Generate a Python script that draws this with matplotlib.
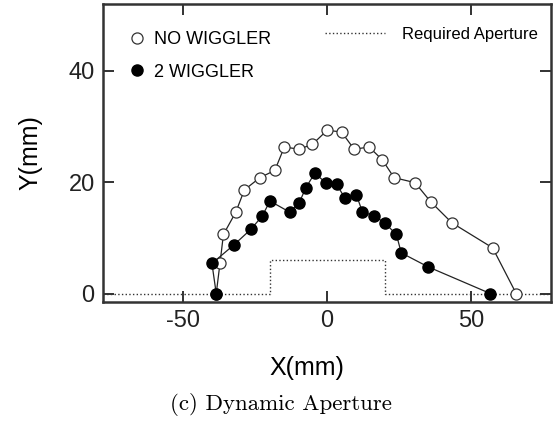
import matplotlib
matplotlib.use("Agg")
import matplotlib.pyplot as plt

# dynamic aperture boundary, no wiggler (x, y in mm)
x_nowig = [65.8, 57.6, 43.4, 36.0, 30.6, 23.3, 19.2, 14.6, 9.4, 5.0, 0.0,
           -5.1, -9.7, -14.9, -18.2, -23.4, -28.8, -31.8, -36.1, -37.3, -38.6]
y_nowig = [0.0, 8.2, 12.7, 16.5, 19.9, 20.8, 24.0, 26.3, 25.9, 29.0, 29.3,
           26.8, 25.9, 26.3, 22.1, 20.8, 18.6, 14.6, 10.6, 5.4, 0.0]

# dynamic aperture boundary, 2 wigglers
x_wig = [56.8, 35.1, 25.8, 24.1, 20.0, 16.2, 12.3, 10.2, 6.1, 3.3, -0.5,
         -4.3, -7.4, -9.8, -13.0, -19.9, -22.6, -26.6, -32.3, -40.1, -38.6]
y_wig = [0.0, 4.8, 7.3, 10.6, 12.7, 14.0, 14.6, 17.7, 17.2, 19.6, 19.9,
         21.6, 19.0, 16.2, 14.6, 16.6, 13.9, 11.5, 8.8, 5.4, 0.0]

# required aperture outline
x_req = [-78, -20, -20, 20, 20, 78]
y_req = [0, 0, 6, 6, 0, 0]

plt.rcParams['font.family'] = ['Liberation Sans', 'DejaVu Sans']
plt.rcParams['axes.unicode_minus'] = False

fig = plt.figure(figsize=(5.54, 4.24), dpi=100)
ax = fig.add_axes([0.186, 0.288, 0.809, 0.703])

req_line, = ax.plot(x_req, y_req, ls=':', color='#333333', lw=1.0)
l1, = ax.plot(x_nowig, y_nowig, '-o', color='#222222', lw=0.9, ms=8,
              mfc='white', mec='#333333', mew=0.9)
l2, = ax.plot(x_wig, y_wig, '-o', color='#222222', lw=0.9, ms=8,
              mfc='black', mec='black')

ax.set_xlim(-78, 78)
ax.set_ylim(-1.5, 52)
ax.set_xticks([-50, 0, 50])
ax.set_yticks([0, 20, 40])
ax.tick_params(direction='in', length=8, width=1.3, labelsize=17,
               top=True, right=True, pad=6, colors='#222222')
for s in ax.spines.values():
    s.set_linewidth(1.8)
    s.set_color('#333333')

ax.set_xlabel('X(mm)', fontsize=18)
ax.xaxis.set_label_coords(0.455, -0.18)
ax.set_ylabel('Y(mm)', fontsize=18)
ax.yaxis.set_label_coords(-0.135, 0.5)

leg1 = ax.legend([l1, l2], ['NO WIGGLER', '2 WIGGLER'], loc='upper left',
                 bbox_to_anchor=(0.042, 0.932), frameon=False, fontsize=13,
                 handlelength=0.9, handletextpad=0.5, labelspacing=0.85,
                 borderaxespad=0)
for h in leg1.legend_handles:
    h.set_linestyle('None')
ax.add_artist(leg1)
ax.legend([req_line], ['Required Aperture'], loc='upper right',
          bbox_to_anchor=(0.985, 0.945), frameon=False, fontsize=12,
          handlelength=3.6, handletextpad=1.0, borderaxespad=0)

fig.text(0.507, 0.033, '(c) Dynamic Aperture', ha='center', va='baseline',
         fontsize=16.5, family='cmr10')

fig.savefig('out.png', dpi=100)
